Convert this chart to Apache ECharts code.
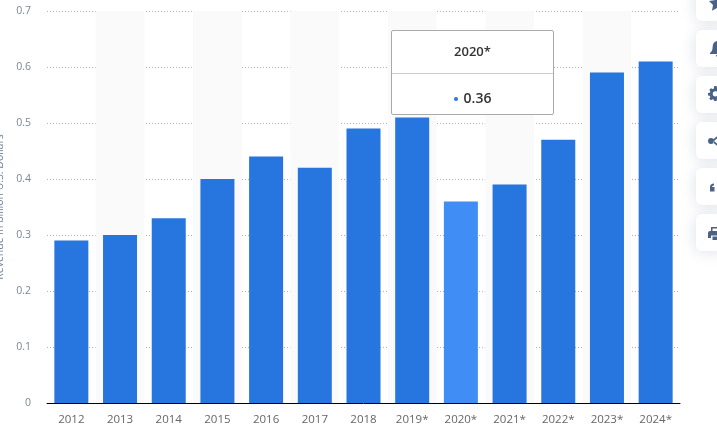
<!DOCTYPE html>
<html>
<head>
<meta charset="utf-8">
<style>html,body{margin:0;padding:0;background:#fff;overflow:hidden}#c{width:717px;height:437px}</style>
<script src="https://cdn.jsdelivr.net/npm/echarts@6/dist/echarts.min.js"></script>
</head>
<body>
<div id="c"></div>
<script>
const years = ['2012','2013','2014','2015','2016','2017','2018','2019*','2020*','2021*','2022*','2023*','2024*'];
const revenue = [0.29,0.30,0.33,0.40,0.44,0.42,0.49,0.51,0.36,0.39,0.47,0.59,0.61];
const highlighted = '2020*';
const yTitle = 'Revenue in billion U.S. Dollars';

const BLUE = '#2775de', HI = '#408ef5', ICON = '#4a6385';
const FONT = '"Open Sans", sans-serif';

const cardTops = [-16, 30, 76, 122, 168, 214];
const icons = [
  'M8 0l2.5 5.2 5.5.8-4 4 1 5.7L8 13l-5 2.7 1-5.7-4-4 5.5-.8z',
  'M8 0c3.6 0 5.4 2.8 5.4 6.2 0 3 1 4.4 2.6 5.8v1H0v-1c1.6-1.4 2.6-2.8 2.6-5.8C2.6 2.8 4.4 0 8 0zM6 14h4a2 2 0 0 1-4 0z',
  'M6.5 0h3l.5 2.3 1.5.6 2-1.2 2.1 2.1-1.2 2 .6 1.5 2.3.5v3l-2.3.5-.6 1.5 1.2 2-2.1 2.1-2-1.2-1.5.6-.5 2.3h-3L6 17.3l-1.5-.6-2 1.2L.4 15.8l1.2-2-.6-1.5-2.3-.5V8.800L1 8.3l.6-1.5-1.2-2L2.5 2.7l2 1.2L6 3.3zM8 6.5a3.3 3.3 0 1 0 0 6.6 3.3 3.3 0 0 0 0-6.600z',
  'M3 3a3 3 0 1 1 0 6 3 3 0 0 1 0-6zM5 4.5L11-.5l1 1.5L6 6zM5 7.5L11 12.5l1-1.5L6 6zM12-3a3 3 0 1 1 0 6 3 3 0 0 1 0-6zM12 9a3 3 0 1 1 0 6 3 3 0 0 1 0-6z',
  'M0 4c0-2 1.5-3.5 4-3.5v2C3 2.500 2.2 3 2 4H4.500v4.500H0zM7 4c0-2 1.5-3.5 4-3.500v2C10 2.500 9.2 3 9 4H11.500v4.500H7z',
  'M3 0h13v1.500H4.500V4h11.500v7h-2.500V8.500H3V11H0V6a2 2 0 0 1 2-2h1zM4.500 9.500H16V13H4.500z'
];
const iconPos = [[709, -5], [710, 41], [709, 86], [708, 135], [710, 183], [708, 227]];
const iconScale = [1, 1, 0.8, 1, 1, 1];
const graphics = [];
cardTops.forEach((top, i) => {
  graphics.push({
    type: 'rect', silent: true, z: 10,
    shape: { x: 696, y: top, width: 60, height: 37, r: 6 },
    style: { fill: '#fff', shadowBlur: 14, shadowColor: 'rgba(60,80,120,0.16)', shadowOffsetX: -1, shadowOffsetY: 1 }
  });
  echarts.graphic.registerShape('sideIcon' + i, echarts.graphic.extendPath(icons[i], {}));
  graphics.push({
    type: 'sideIcon' + i, silent: true, z: 11,
    x: iconPos[i][0], y: iconPos[i][1], scaleX: iconScale[i], scaleY: iconScale[i],
    style: { fill: ICON }
  });
});

const chart = echarts.init(document.getElementById('c'), null, { renderer: 'canvas' });
chart.setOption({
  animation: false,
  textStyle: { fontFamily: FONT },
  grid: { left: 47, right: 37, top: 11, bottom: 34, containLabel: false, outerBoundsMode: 'none' },
  xAxis: {
    type: 'category',
    data: years,
    axisTick: { show: false },
    axisLine: { lineStyle: { color: '#000', width: 1 } },
    axisLabel: { color: '#666', fontSize: 11.5, fontFamily: FONT, margin: 11, interval: 0 },
    splitArea: { show: true, interval: 0, areaStyle: { color: ['rgba(255,255,255,0)', '#fafafa'] } }
  },
  yAxis: {
    type: 'value',
    min: 0, max: 0.7, interval: 0.1,
    name: yTitle,
    nameLocation: 'middle',
    nameGap: 38.5,
    nameTextStyle: { color: '#6f8299', fontSize: 10.5, fontFamily: FONT },
    axisLine: { show: false },
    axisTick: { show: false },
    axisLabel: { color: '#7c8694', fontSize: 10.5, fontFamily: FONT, margin: 16, padding: [3, 0, 0, 0], formatter: v => v === 0 ? '0' : v.toFixed(1) },
    splitLine: { lineStyle: { color: '#b0b0b0', type: [1, 2], width: 1 } }
  },
  tooltip: {
    trigger: 'item',
    alwaysShowContent: true,
    transitionDuration: 0,
    padding: 0,
    borderWidth: 0,
    backgroundColor: 'transparent',
    extraCssText: 'box-shadow:none;border-radius:0;',
    position: [391, 30],
    formatter: p => `<div style="box-sizing:border-box;width:163px;height:85px;background:#fff;border:1px solid #aaa;border-radius:2px;font-family:${FONT.replace(/"/g, "'")};color:#333;text-align:center;">` +
      `<div style="height:42px;line-height:40px;font-size:13px;font-weight:600;border-bottom:1px solid #ccc;">${p.name}</div>` +
      `<div style="height:40px;line-height:48px;font-size:14px;font-weight:600;"><span style="display:inline-block;width:4px;height:4px;border-radius:50%;background:${BLUE};vertical-align:middle;margin-right:6px;"></span>${p.value}</div></div>`
  },
  series: [{
    type: 'bar',
    barWidth: 34,
    data: revenue.map((v, i) => years[i] === highlighted ? { value: v, itemStyle: { color: HI } } : v),
    itemStyle: { color: BLUE },
    emphasis: { disabled: true }
  }],
  graphic: graphics
});
chart.dispatchAction({ type: 'showTip', seriesIndex: 0, dataIndex: years.indexOf(highlighted) });
</script>
</body>
</html>
